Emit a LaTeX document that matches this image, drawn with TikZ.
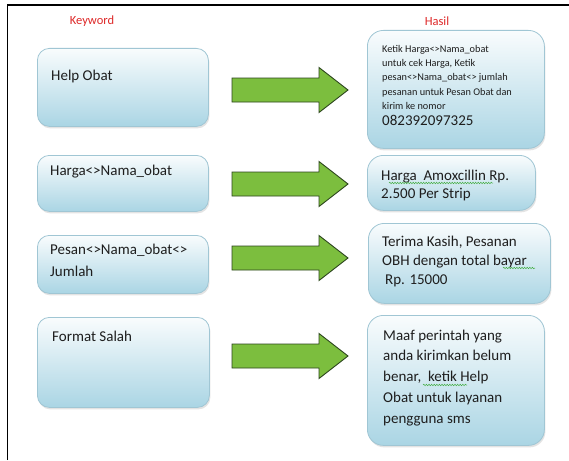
\documentclass[tikz,border=0pt]{standalone}
\usepackage{fontspec}
\setmainfont{Carlito}
\usetikzlibrary{shadows,decorations.pathmorphing}
\definecolor{boxtop}{RGB}{249,252,253}
\definecolor{boxbot}{RGB}{170,213,228}
\definecolor{boxline}{RGB}{160,198,212}
\definecolor{argreen}{RGB}{124,190,62}
\definecolor{arline}{RGB}{45,70,30}
\definecolor{headred}{RGB}{222,40,40}
\definecolor{txt}{RGB}{30,30,30}
\definecolor{squig}{RGB}{70,175,70}
\begin{document}
\begin{tikzpicture}[x=1pt,y=-1pt,
  kbox/.style={draw=boxline, line width=0.8pt, rounded corners=12pt,
    top color=boxtop, bottom color=boxbot, anchor=north west, inner sep=0pt,
    drop shadow={opacity=0.22, shadow xshift=1pt, shadow yshift=-2pt}},
  hbox/.style={kbox, rounded corners=16pt},
  head/.style={font=\fontsize{12.5}{15}\selectfont, text=headred, inner sep=0pt},
  btext/.style={anchor=base west, align=left, inner sep=0pt, text=txt,
    font=\fontsize{15}{#1}\selectfont},
  btext/.default=18,
  smalltext/.style={anchor=base west, align=left, inner sep=0pt, text=txt,
    font=\fontsize{10.3}{14.4}\selectfont},
  arrowst/.style={fill=argreen, draw=arline, line width=0.9pt, line join=miter},
  squiggle/.style={draw=squig, line width=0.5pt,
    decorate, decoration={snake, amplitude=0.8pt, segment length=2.6pt}},
  garrow/.pic={\draw[arrowst] (0,-12) -- (87,-12) -- (87,-22.5) -- (116,0)
    -- (87,22.5) -- (87,12) -- (0,12) -- cycle;}
]
\useasboundingbox (0,0) rectangle (569,460);
\fill[white] (0,0) rectangle (569,460);
% frame
\draw[line width=1.2pt] (7.5,460) -- (7.5,5) -- (569,5);

% headings
\node[head] (kw) at (92,21) {Keyword};
\node[head] (hs) at (437,21) {Hasil};

% keyword boxes
\node[kbox, minimum width=171pt, minimum height=78pt] (k1) at (37,48) {};
\node[kbox, minimum width=171pt, minimum height=56pt] (k2) at (37,155) {};
\node[kbox, minimum width=171pt, minimum height=58pt] (k3) at (37,235) {};
\node[kbox, minimum width=172pt, minimum height=90pt] (k4) at (37,317) {};

% (multi-line nodes: anchor base = baseline of the last line)
\node[btext] (kt1) at (51,80) {Help Obat};
\node[btext] (kt2) at (50,175) {Harga<>Nama\_obat};
\node[btext=22] (kt3) at (50,276) {Pesan<>Nama\_obat<>\\Jumlah};
\node[btext] (kt4) at (52,341) {Format Salah};

% result boxes
\node[hbox, minimum width=177pt, minimum height=118pt] (h1) at (367,30) {};
\node[hbox, minimum width=168pt, minimum height=55pt] (h2) at (367,155) {};
\node[hbox, minimum width=182pt, minimum height=80pt] (h3) at (368,223) {};
\node[hbox, minimum width=177pt, minimum height=130pt] (h4) at (367,315) {};

\node[smalltext] (ht1) at (382,109.6) {Ketik Harga<>Nama\_obat\\untuk cek Harga, Ketik\\pesan<>Nama\_obat<> jumlah\\pesanan untuk Pesan Obat dan\\kirim ke nomor};
\node[btext] (ht1n) at (382,125) {082392097325};
\node[btext=18.5] (ht2) at (381,198.5) {Harga~ Amoxcillin Rp.\\2.500 Per Strip};
\node[btext=19] (ht3) at (382,284.5) {Terima Kasih, Pesanan\\OBH dengan total bayar\\\hspace{3pt}Rp. 15000};
\node[btext=20.8] (ht4) at (383,423.2) {Maaf perintah yang\\anda kirimkan belum\\benar,~ ketik Help\\Obat untuk layanan\\pengguna sms};

% spell-check squiggles
\draw[squiggle] (389,183) -- (493,183);
\draw[squiggle] (503,268) -- (535,268);
\draw[squiggle] (423,385) -- (467,385);

% arrows
\pic (a1) at (232,90) {garrow};
\pic (a2) at (232,184) {garrow};
\pic (a3) at (232,258) {garrow};
\pic (a4) at (232,356) {garrow};
\end{tikzpicture}
\end{document}
